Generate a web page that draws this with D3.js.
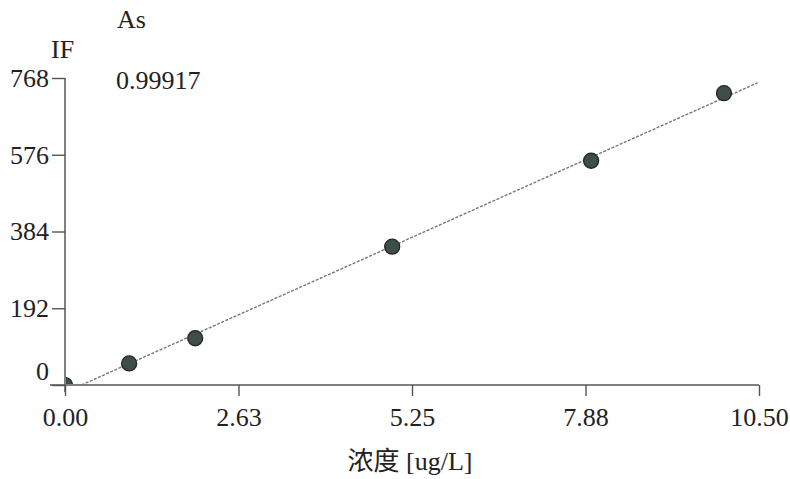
<!DOCTYPE html>
<html>
<head>
<meta charset="utf-8">
<script src="https://cdn.jsdelivr.net/npm/d3@7"></script>
<style>
  body { margin: 0; background: #fff; }
  svg text { font-family: "Liberation Serif", "DejaVu Serif", serif; fill: #222; }
</style>
</head>
<body>
<svg id="chart" width="790" height="479"></svg>
<script>
// standards: concentration (ug/L) and intensity (IF)
const conc = [0, 0.97, 1.97, 4.95, 7.96, 9.97];
const intensity = [0, 54, 117, 346, 561, 730];

// fitted line end points
const fitX = [0.25, 10.48];
const fitY = [0, 756];

const xTicks = [0, 2.625, 5.25, 7.875, 10.5];
const xTickLabels = ["0.00", "2.63", "5.25", "7.88", "10.50"];
const yTicks = [0, 192, 384, 576, 768];

const svg = d3.select("#chart");

const x = d3.scaleLinear().domain([0, 10.5]).range([65, 759]);
const y = d3.scaleLinear().domain([0, 768]).range([385, 78]);

// clip for marks
svg.append("defs").append("clipPath").attr("id", "plot")
  .append("rect")
  .attr("x", x(0) + 1).attr("y", 0)
  .attr("width", x(10.5) - x(0) + 20)
  .attr("height", y(0) - 1);

// axes
const xAxis = svg.append("g")
  .attr("transform", `translate(0,${y(0)})`)
  .call(d3.axisBottom(x).tickValues(xTicks).tickFormat((d, i) => xTickLabels[i]).tickSize(11).tickPadding(12));
xAxis.select(".domain").remove();

const yAxis = svg.append("g")
  .attr("transform", `translate(${x(0)},0)`)
  .call(d3.axisLeft(y).tickValues(yTicks).tickSize(13).tickPadding(3));
yAxis.select(".domain").remove();
yAxis.selectAll(".tick text").filter(d => d === 0).attr("y", -14);

svg.selectAll(".tick line").attr("stroke", "#555").attr("stroke-width", 1.4);
svg.selectAll(".tick text").attr("font-size", 26).attr("fill", "#222")
  .style("font-family", '"Liberation Serif", serif');

// axis lines
svg.append("line")
  .attr("x1", x(0) - 15).attr("x2", x(10.5))
  .attr("y1", y(0)).attr("y2", y(0))
  .attr("stroke", "#555").attr("stroke-width", 1.5);
svg.append("line")
  .attr("x1", x(0)).attr("x2", x(0))
  .attr("y1", y(768)).attr("y2", y(0) + 7)
  .attr("stroke", "#555").attr("stroke-width", 1.5);

// fit line
svg.append("line")
  .attr("x1", x(fitX[0])).attr("y1", y(fitY[0]))
  .attr("x2", x(fitX[1])).attr("y2", y(fitY[1]))
  .attr("stroke", "#777").attr("stroke-width", 1.4)
  .attr("stroke-dasharray", "3,1.5");

// points
svg.append("g").attr("clip-path", "url(#plot)")
  .selectAll("circle")
  .data(conc)
  .join("circle")
  .attr("cx", d => x(d))
  .attr("cy", (d, i) => y(intensity[i]))
  .attr("r", 7.5)
  .attr("fill", "#3e4e4a")
  .attr("stroke", "#262626")
  .attr("stroke-width", 1.3);

// texts
svg.append("text").attr("x", 117).attr("y", 28).attr("font-size", 26).text("As");
svg.append("text").attr("x", 51).attr("y", 58).attr("font-size", 26).text("IF");
svg.append("text").attr("x", 116).attr("y", 89).attr("font-size", 26).text("0.99917");
svg.append("text").attr("x", 410).attr("y", 470).attr("text-anchor", "middle").attr("font-size", 26)
  .style("font-family", '"Liberation Serif", "Noto Sans CJK SC", serif')
  .text("浓度 [ug/L]");
</script>
</body>
</html>
